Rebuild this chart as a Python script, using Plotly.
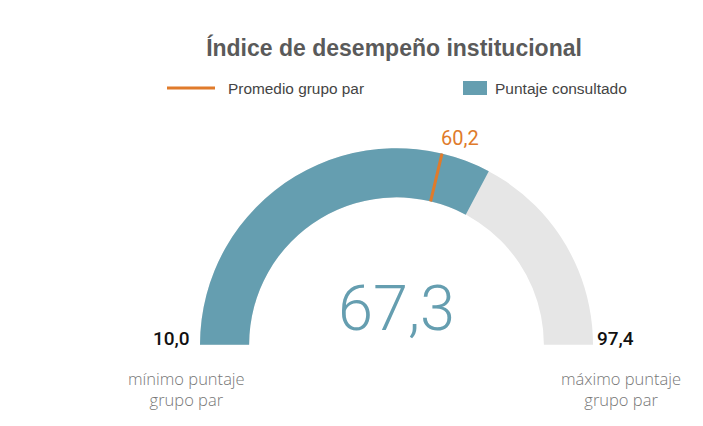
import math
import plotly.graph_objects as go

# ---- data ----
title_text = "Índice de desempeño institucional"
score = 67.3            # Puntaje consultado
peer_avg = 60.2         # Promedio grupo par
peer_min = 10.0         # mínimo puntaje grupo par
peer_max = 97.4         # máximo puntaje grupo par
legend_labels = ["Promedio grupo par", "Puntaje consultado"]
min_label = ["mínimo puntaje", "grupo par"]
max_label = ["máximo puntaje", "grupo par"]

# ---- style ----
W, H = 703, 426
OFF = 8   # page body margin
BLUE = "#659eb0"
GREY = "#e6e6e6"
ORANGE = "#e07b2b"

def px(x):
    return (x - OFF) / W

def py(y):
    return 1 - (y - OFF) / H

def fmt(v):
    return f"{v:.1f}".replace(".", ",")

# gauge domain (paper fractions), screen px: x 200..593, y 148..345
dom_x = [px(200), px(593)]
dom_y = [py(345), py(148)]

fig = go.Figure()
fig.add_trace(go.Indicator(
    mode="gauge+number",
    value=score,
    number=dict(valueformat=".1f", font=dict(family="Roboto", size=63, color=BLUE, weight=300)),
    domain=dict(x=dom_x, y=dom_y),
    gauge=dict(
        shape="angular",
        axis=dict(range=[peer_min, peer_max], visible=False),
        bar=dict(color=BLUE, thickness=1, line=dict(width=0)),
        bgcolor=GREY,
        borderwidth=0,
        threshold=dict(line=dict(color=ORANGE, width=3), thickness=1, value=peer_avg),
    ),
))

# geometry for label of threshold (from gauge scale)
cx = (dom_x[0] + dom_x[1]) / 2
R = (dom_x[1] - dom_x[0]) / 2 * W
cy = dom_y[0]
ang = math.pi * (1 - (peer_avg - peer_min) / (peer_max - peer_min))
lx = cx + R * math.cos(ang) / W
ly = cy + R * math.sin(ang) / H

ann = []
ann.append(dict(x=lx, y=ly, xref="paper", yref="paper", text=fmt(peer_avg),
                xanchor="left", yanchor="bottom", showarrow=False, xshift=-3, yshift=2,
                font=dict(family="Roboto", size=20, color=ORANGE)))
ann.append(dict(x=px(192), y=py(338), xref="paper", yref="paper", text=fmt(peer_min),
                xanchor="right", yanchor="middle", showarrow=False,
                font=dict(family="Roboto", size=19, color="#111111", weight=500)))
ann.append(dict(x=px(595), y=py(338), xref="paper", yref="paper", text=fmt(peer_max),
                xanchor="left", yanchor="middle", showarrow=False,
                font=dict(family="Roboto", size=19, color="#111111", weight=500)))
ann.append(dict(x=px(186), y=py(389), xref="paper", yref="paper", text="<br>".join(min_label),
                xanchor="center", yanchor="middle", showarrow=False,
                font=dict(family="Open Sans", size=16.5, color="#777777", weight=300)))
ann.append(dict(x=px(621), y=py(389), xref="paper", yref="paper", text="<br>".join(max_label),
                xanchor="center", yanchor="middle", showarrow=False,
                font=dict(family="Open Sans", size=16.5, color="#777777", weight=300)))
# legend
ann.append(dict(x=px(226), y=py(88), xref="paper", yref="paper", text=legend_labels[0],
                xanchor="left", yanchor="middle", showarrow=False,
                font=dict(family="Liberation Sans", size=15.4, color="#444444")))
ann.append(dict(x=px(493), y=py(88), xref="paper", yref="paper", text=legend_labels[1],
                xanchor="left", yanchor="middle", showarrow=False,
                font=dict(family="Liberation Sans", size=15.5, color="#444444")))

shapes = [
    dict(type="line", xref="paper", yref="paper", x0=px(167), x1=px(215), y0=py(88), y1=py(88),
         line=dict(color=ORANGE, width=3)),
    dict(type="rect", xref="paper", yref="paper", x0=px(463), x1=px(487), y0=py(95), y1=py(81),
         fillcolor=BLUE, line=dict(width=0)),
]

fig.update_layout(
    width=W, height=H,
    margin=dict(l=0, r=0, t=0, b=0),
    paper_bgcolor="white",
    separators=",.",
    title=dict(text=f"<b>{title_text}</b>", x=px(394), xanchor="center", y=py(48), yanchor="middle",
               font=dict(family="Liberation Sans", size=23, color="#5a5a5a")),
    annotations=ann,
    shapes=shapes,
)

fig.write_html("out.html")
